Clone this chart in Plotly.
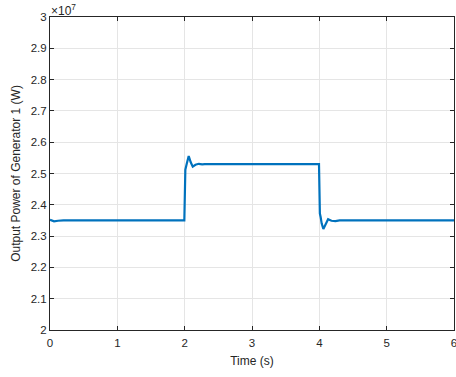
import plotly.graph_objects as go
import numpy as np

# Time samples (s) and generator 1 output power (W)
time_s = [0, 0.02, 0.06, 0.12, 0.2, 1.995, 2.0, 2.01, 2.03, 2.06, 2.09, 2.12,
          2.16, 2.21, 2.26, 2.3, 3.995, 4.0, 4.008, 4.02, 4.035, 4.06, 4.09,
          4.13, 4.18, 4.24, 4.3, 6.0]
power_w = [2.352e7, 2.350e7, 2.347e7, 2.349e7, 2.350e7, 2.350e7, 2.50e7,
           2.512e7, 2.53e7, 2.556e7, 2.536e7, 2.522e7, 2.528e7, 2.531e7,
           2.529e7, 2.530e7, 2.530e7, 2.378e7, 2.372e7, 2.360e7, 2.340e7,
           2.323e7, 2.336e7, 2.354e7, 2.349e7, 2.348e7, 2.350e7, 2.350e7]

x_ticks = [0, 1, 2, 3, 4, 5, 6]
y_ticks = [2.0, 2.1, 2.2, 2.3, 2.4, 2.5, 2.6, 2.7, 2.8, 2.9, 3.0]
y_tick_text = ["2", "2.1", "2.2", "2.3", "2.4", "2.5", "2.6", "2.7", "2.8", "2.9", "3"]
y_scale = 1e7

axis_color = "#262626"
grid_color = "#e5e5e5"
font_family = "Liberation Sans, Arial, sans-serif"

fig = go.Figure()
fig.add_trace(go.Scatter(
    x=time_s, y=power_w, mode="lines",
    line=dict(color="#0072BD", width=2.2),
    showlegend=False,
))

common_axis = dict(
    showline=True, linecolor=axis_color, linewidth=1, mirror="ticks",
    ticks="inside", ticklen=4, tickcolor=axis_color, tickwidth=1,
    showgrid=True, gridcolor=grid_color, gridwidth=1, zeroline=False,
    tickfont=dict(family=font_family, size=11.5, color=axis_color),
    ticklabeloverflow="allow", automargin=False,
)

fig.update_layout(
    width=456, height=377,
    margin=dict(l=50, r=2, t=17, b=47),
    plot_bgcolor="white", paper_bgcolor="white",
    font=dict(family=font_family, size=11, color=axis_color),
    xaxis=dict(
        range=[0, 6], tickvals=x_ticks, ticklabelstandoff=2,
        title=dict(text="Time (s)", font=dict(size=12, color=axis_color), standoff=8),
        **common_axis,
    ),
    yaxis=dict(
        range=[2.0 * y_scale, 3.0 * y_scale],
        tickvals=[v * y_scale for v in y_ticks], ticktext=y_tick_text,
        title=dict(text="Output Power of Generator 1 (W)", font=dict(size=12, color=axis_color), standoff=7),
        **common_axis,
    ),
    annotations=[dict(
        text="×10<sup>7</sup>", xref="paper", yref="paper", x=0, y=1,
        xanchor="left", yanchor="bottom", showarrow=False,
        font=dict(family=font_family, size=12, color=axis_color),
        xshift=-1, yshift=-3,
    )],
)

fig.write_html("out.html")
